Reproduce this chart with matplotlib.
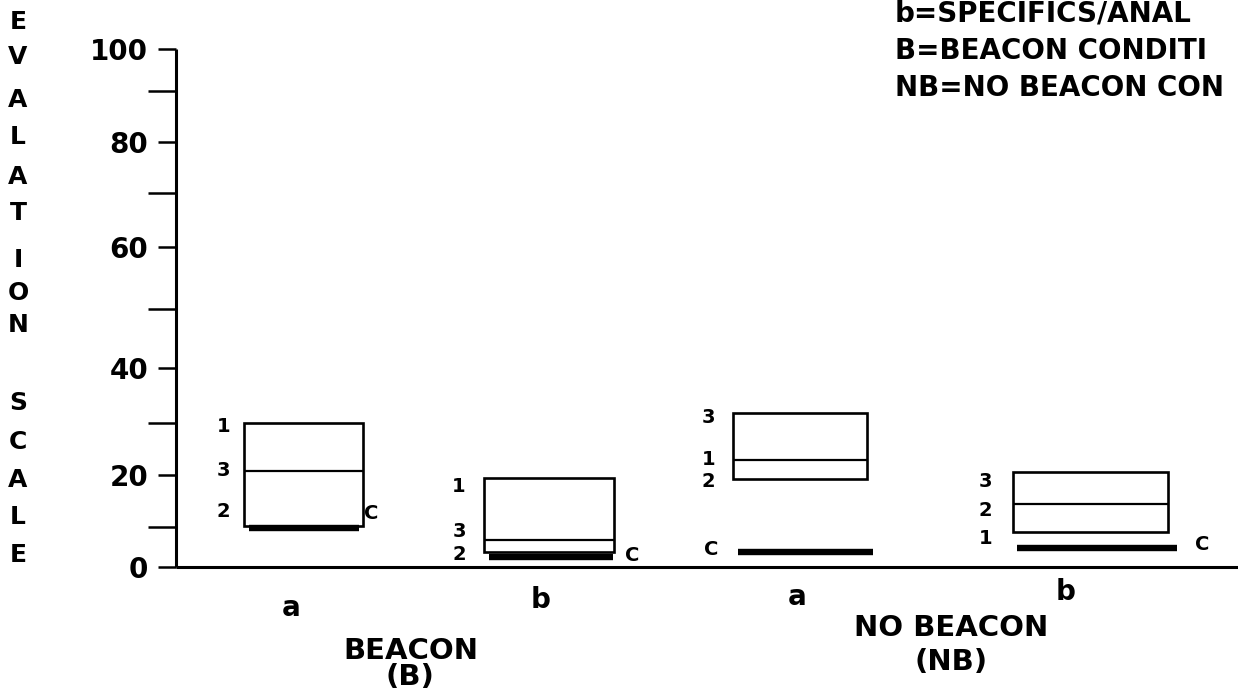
import numpy as np
import matplotlib
matplotlib.use("Agg")
import matplotlib.pyplot as plt
from matplotlib.patches import Rectangle
from matplotlib.transforms import blended_transform_factory

# ---------------- data ----------------
subgroup_labels = ["a", "b", "a", "b"]
condition_labels = ["BEACON\n(B)", "NO BEACON\n(NB)"]
value_1 = [30.0, 19.4, 22.9, 8.75]
value_2 = [10.2, 3.8, 19.2, 14.4]
value_3 = [20.8, 6.7, 31.8, 20.6]
value_c = [9.8, 2.5, 3.8, 4.8]
y_major = [0, 20, 40, 60, 80, 100]
y_minor = [10, 30, 50, 70, 90]
axis_word_1 = "EVALATION"
axis_word_2 = "SCALE"
# legend lines as far as they are visible in the (cropped) reference
legend_lines = ["b=SPECIFICS/ANAL",
                "B=BEACON CONDITI",
                "NB=NO BEACON CON"]

# hand-drawn ruler of the original: value -> fraction of axis height
ruler_values = [0, 10, 20, 30, 40, 50, 60, 70, 80, 90, 100]
ruler_frac = [0.0, 0.0772, 0.1776, 0.278, 0.384, 0.498,
              0.618, 0.722, 0.820, 0.919, 1.0]

# ---------------- layout ----------------
W, H = 1238, 689
box_center = [0.0, 0.940, 1.904, 3.016]
box_width = [0.455, 0.498, 0.513, 0.593]
bar_x0 = [-0.209, 0.710, 1.663, 2.735]
bar_x1 = [0.212, 1.185, 2.183, 3.347]
num_gap = [14, 18, 18, 21]                 # px left of box
num_nudge = [(-4, 14, 0), (-8, -3, 9), (0, -2, -4), (-6, -6, -10)]  # for 1,2,3
c_side = ["right", "right", "left", "right"]
c_gap = [5, 12, 19, 18]
c_nudge = [14, 2, 2, 3]
sub_x = [-0.048, 0.909, 1.893, 2.918]
sub_y = [608, 600, 597, 592]
cond_x = [0.41, 2.48]
cond_lines_y = [(651, 677), (628, 662)]
letters_y_1 = [22, 57, 100, 137, 177, 213, 260, 293, 325]
letters_y_2 = [403, 442, 480, 517, 555]
legend_y = [14, 51, 88]

FONT = "DejaVu Sans"

fig = plt.figure(figsize=(W / 100, H / 100), dpi=100)
ax = fig.add_axes([176 / W, 122 / H, (W - 176) / W, 518 / H])


def fwd(v):
    return np.interp(v, ruler_values, ruler_frac)


def inv(f):
    return np.interp(f, ruler_frac, ruler_values)


ax.set_yscale("function", functions=(fwd, inv))
ax.set_ylim(0, 100)
ax.set_xlim(-0.488, 3.58)

for s in ["top", "right"]:
    ax.spines[s].set_visible(False)
for s in ["left", "bottom"]:
    ax.spines[s].set_linewidth(2.2)
    ax.spines[s].set_capstyle("butt")

ax.set_xticks([])
ax.set_yticks(y_major)
ax.set_yticklabels([str(v) for v in y_major], fontfamily=FONT,
                   fontweight="bold", fontsize=20)
ax.set_yticks(y_minor, minor=True)
ax.tick_params(axis="y", which="major", direction="out", length=13,
               width=1.8, pad=7)
ax.tick_params(axis="y", which="minor", direction="out", length=20,
               width=1.8)

txt = dict(fontfamily=FONT, fontweight="bold", color="black")

for i in range(len(subgroup_labels)):
    vals = [value_1[i], value_2[i], value_3[i]]
    lo, hi = min(vals), max(vals)
    left = box_center[i] - box_width[i] / 2
    right = box_center[i] + box_width[i] / 2
    ax.add_patch(Rectangle((left, lo), box_width[i], hi - lo, fill=False,
                           edgecolor="black", linewidth=1.9, zorder=3))
    for v in vals:
        if lo < v < hi:
            ax.hlines(v, left, right, colors="black", linewidth=1.6, zorder=3)
    ax.hlines(value_c[i], bar_x0[i], bar_x1[i], colors="black",
              linewidth=4.6, zorder=4, capstyle="butt")
    for name, v, nd in zip(["1", "2", "3"], vals, num_nudge[i]):
        ax.annotate(name, xy=(left, v), xytext=(-num_gap[i], nd),
                    textcoords="offset pixels", ha="right", va="center",
                    fontsize=14, **txt)
    if c_side[i] == "right":
        ax.annotate("C", xy=(bar_x1[i], value_c[i]),
                    xytext=(c_gap[i], c_nudge[i]), textcoords="offset pixels",
                    ha="left", va="center", fontsize=14, **txt)
    else:
        ax.annotate("C", xy=(bar_x0[i], value_c[i]),
                    xytext=(-c_gap[i], c_nudge[i]), textcoords="offset pixels",
                    ha="right", va="center", fontsize=14, **txt)

bt = blended_transform_factory(ax.transData, fig.transFigure)
for lab, x, y in zip(subgroup_labels, sub_x, sub_y):
    ax.text(x, 1 - y / H, lab, transform=bt, ha="center", va="center",
            fontsize=20, **txt)

for lab, x, ys in zip(condition_labels, cond_x, cond_lines_y):
    for part, y in zip(lab.split("\n"), ys):
        ax.text(x, 1 - y / H, part, transform=bt, ha="center", va="center",
                fontsize=21, **txt)

for ch, y in zip(axis_word_1, letters_y_1):
    fig.text(18 / W, 1 - y / H, ch, ha="center", va="center", fontsize=18,
             **txt)
for ch, y in zip(axis_word_2, letters_y_2):
    fig.text(18 / W, 1 - y / H, ch, ha="center", va="center", fontsize=18,
             **txt)

for line, y in zip(legend_lines, legend_y):
    fig.text(895 / W, 1 - y / H, line, ha="left", va="center", fontsize=20,
             **txt)

fig.savefig("out.png", dpi=100)
